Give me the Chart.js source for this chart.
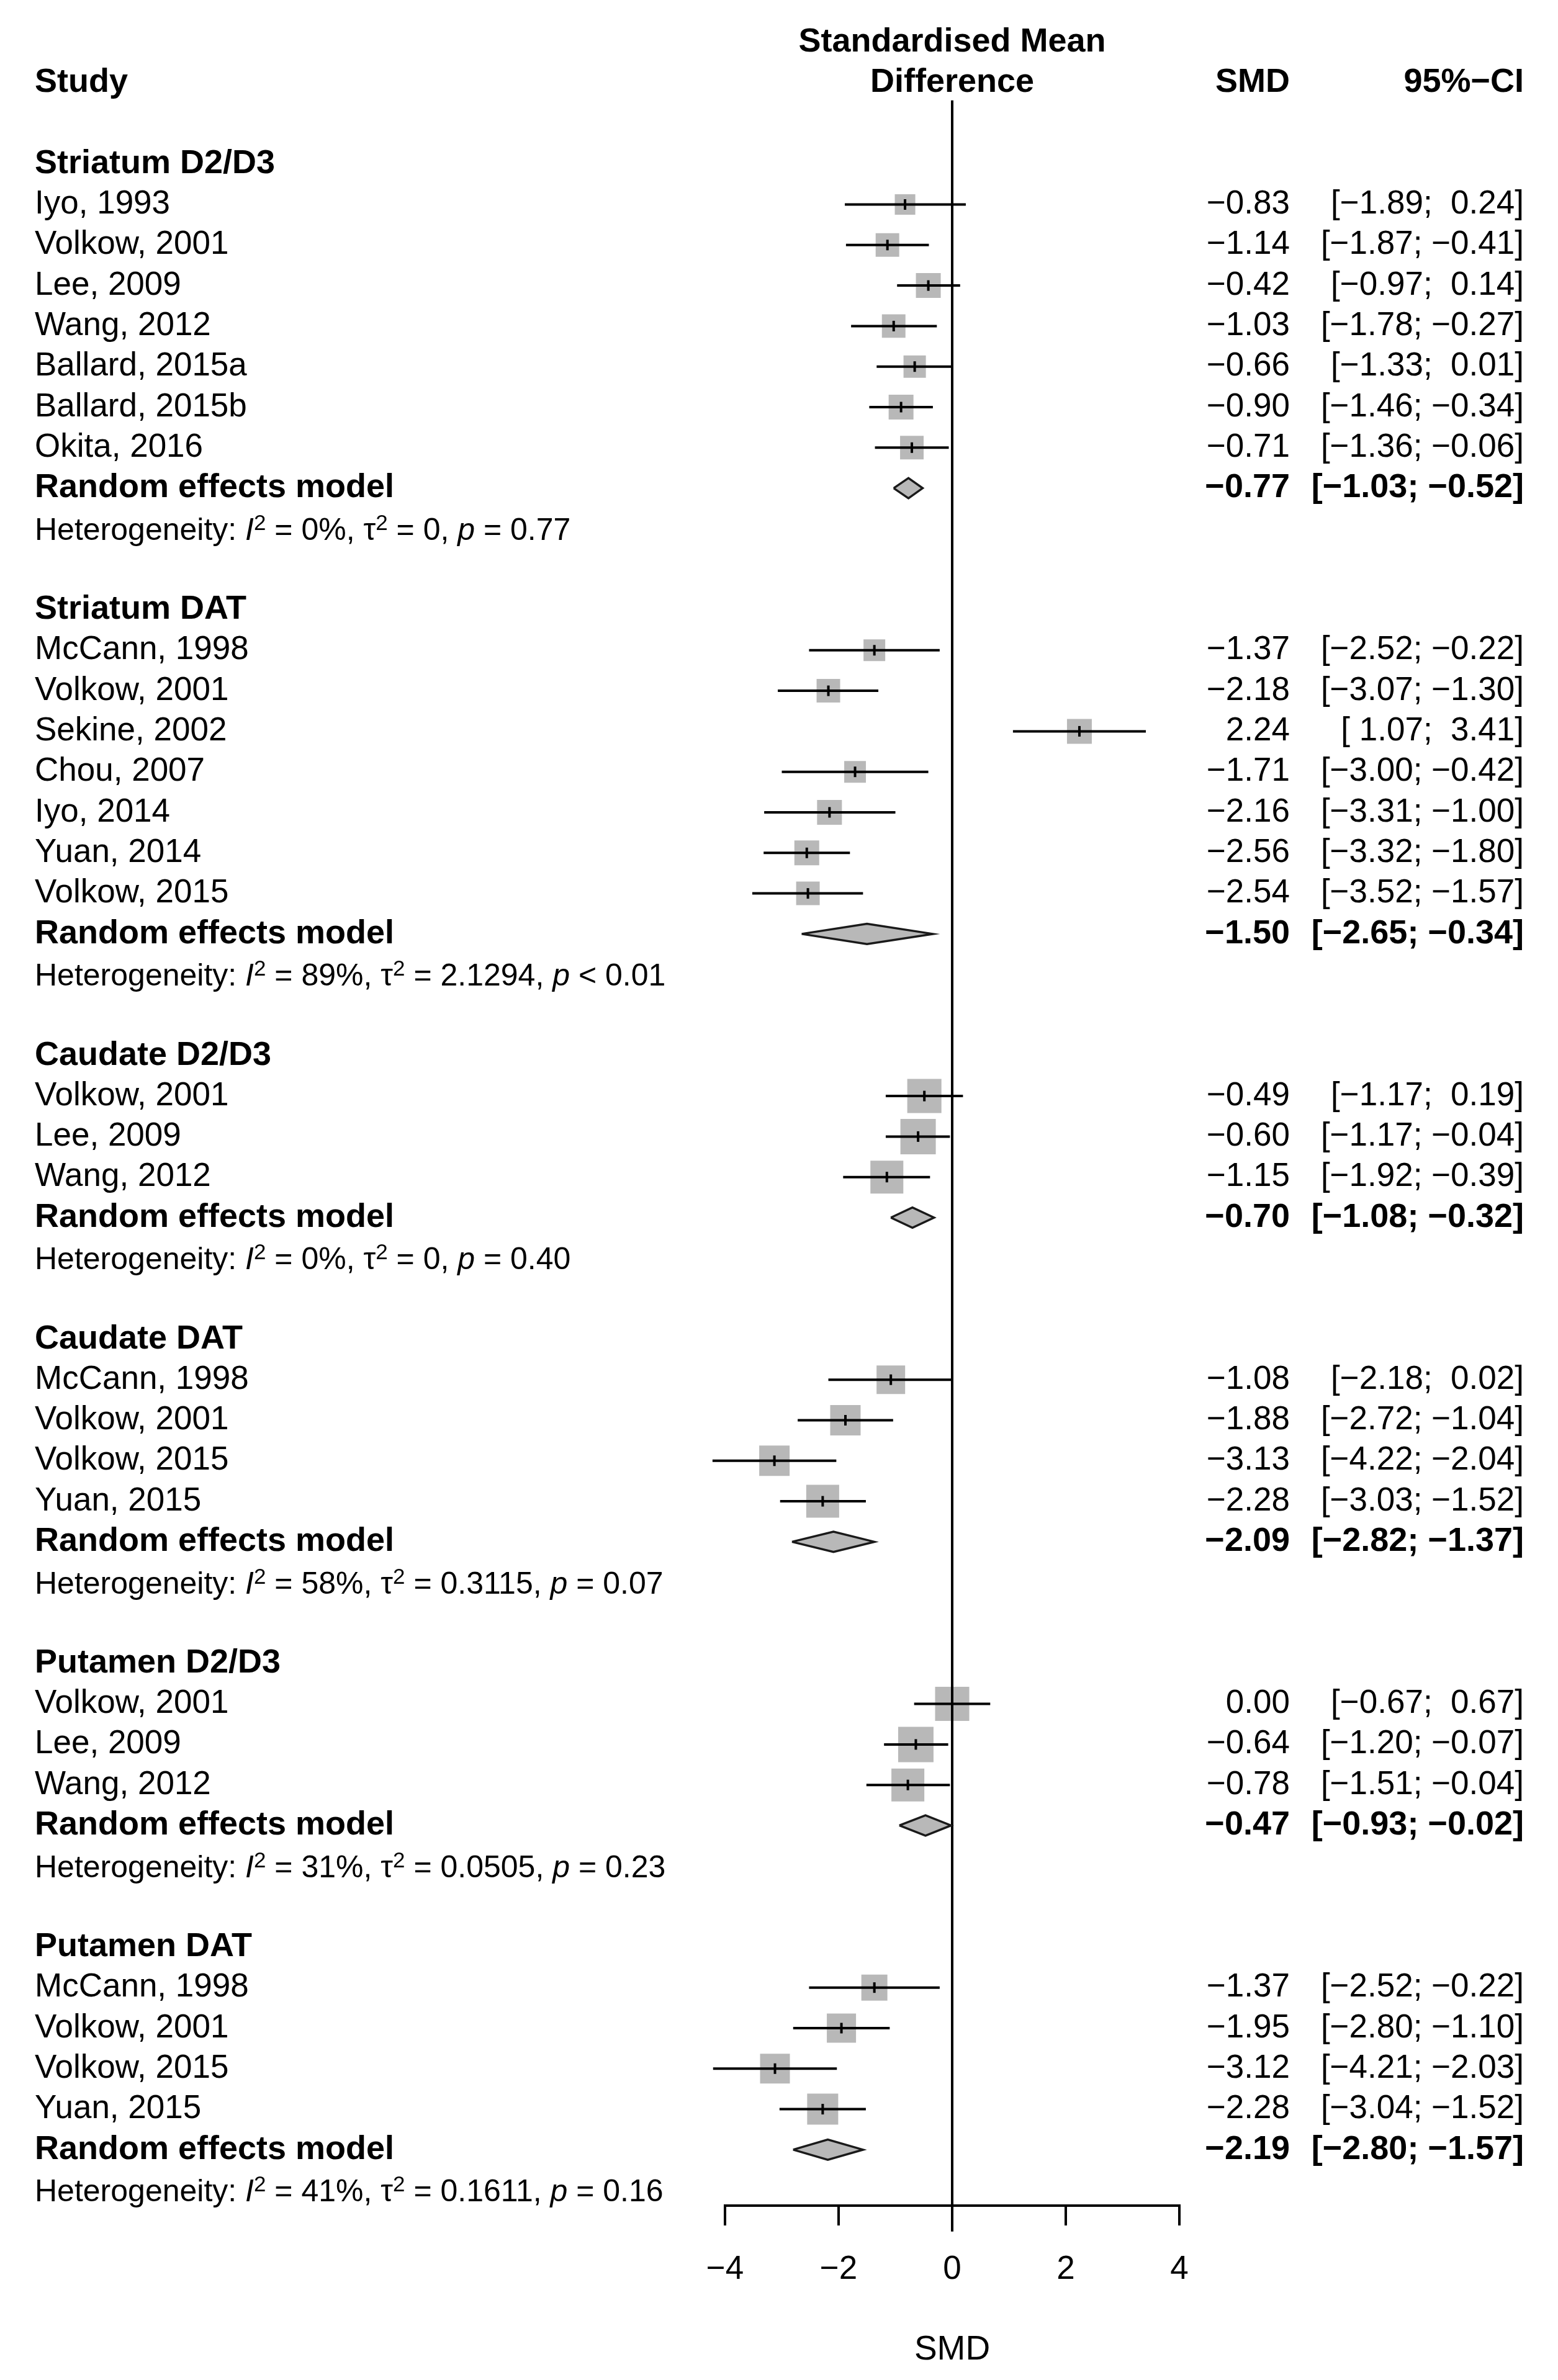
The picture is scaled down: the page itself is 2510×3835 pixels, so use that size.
<!DOCTYPE html>
<html>
<head>
<meta charset="utf-8">
<script src="https://cdn.jsdelivr.net/npm/chart.js@4.4.1/dist/chart.umd.min.js"></script>
<style>
  html, body { margin: 0; padding: 0; background: #fff; }
  #forest { display: block; }
</style>
</head>
<body>
<canvas id="forest" width="2510" height="3835"></canvas>
<script>
// subgroups
const groupNames = ["Striatum D2/D3", "Striatum DAT", "Caudate D2/D3", "Caudate DAT", "Putamen D2/D3", "Putamen DAT"];

const studyNames = [
  ["Iyo, 1993", "Volkow, 2001", "Lee, 2009", "Wang, 2012", "Ballard, 2015a", "Ballard, 2015b", "Okita, 2016"],
  ["McCann, 1998", "Volkow, 2001", "Sekine, 2002", "Chou, 2007", "Iyo, 2014", "Yuan, 2014", "Volkow, 2015"],
  ["Volkow, 2001", "Lee, 2009", "Wang, 2012"],
  ["McCann, 1998", "Volkow, 2001", "Volkow, 2015", "Yuan, 2015"],
  ["Volkow, 2001", "Lee, 2009", "Wang, 2012"],
  ["McCann, 1998", "Volkow, 2001", "Volkow, 2015", "Yuan, 2015"],
];

const smd = [
  [-0.83, -1.14, -0.42, -1.03, -0.66, -0.90, -0.71],
  [-1.37, -2.18, 2.24, -1.71, -2.16, -2.56, -2.54],
  [-0.49, -0.60, -1.15],
  [-1.08, -1.88, -3.13, -2.28],
  [0.00, -0.64, -0.78],
  [-1.37, -1.95, -3.12, -2.28],
];
const ciLow = [
  [-1.89, -1.87, -0.97, -1.78, -1.33, -1.46, -1.36],
  [-2.52, -3.07, 1.07, -3.00, -3.31, -3.32, -3.52],
  [-1.17, -1.17, -1.92],
  [-2.18, -2.72, -4.22, -3.03],
  [-0.67, -1.20, -1.51],
  [-2.52, -2.80, -4.21, -3.04],
];
const ciHigh = [
  [0.24, -0.41, 0.14, -0.27, 0.01, -0.34, -0.06],
  [-0.22, -1.30, 3.41, -0.42, -1.00, -1.80, -1.57],
  [0.19, -0.04, -0.39],
  [0.02, -1.04, -2.04, -1.52],
  [0.67, -0.07, -0.04],
  [-0.22, -1.10, -2.03, -1.52],
];
// study weights (%)
const weights = [
  [11.6, 15.3, 17.0, 15.3, 13.8, 17.0, 15.3],
  [13.0, 15.3, 17.0, 13.0, 17.0, 17.0, 15.3],
  [32.2, 34.5, 29.9],
  [22.5, 25.5, 25.5, 29.9],
  [32.2, 34.5, 29.9],
  [18.7, 23.5, 24.5, 26.6],
];

// random effects model per subgroup
const pooledSmd = [-0.77, -1.50, -0.70, -2.09, -0.47, -2.19];
const pooledLow = [-1.03, -2.65, -1.08, -2.82, -0.93, -2.80];
const pooledHigh = [-0.52, -0.34, -0.32, -1.37, -0.02, -1.57];

const hetI2 = ["0%", "89%", "0%", "58%", "31%", "41%"];
const hetTau2 = ["0", "2.1294", "0", "0.3115", "0.0505", "0.1611"];
const hetP = ["= 0.77", "< 0.01", "= 0.40", "= 0.07", "= 0.23", "= 0.16"];

const xTicks = [-4, -2, 0, 2, 4];
const nullEffect = 0;

// ---- layout ----
const FONT = '"Liberation Sans", Arial, Helvetica, sans-serif';
const TXT = 53;
const BOLD = 54;
const HET = 50;
const LEFT_X = 56;
const SMD_X = 2078;
const CI_X = 2455;
const BOX_K = 9.7;
const GRAY = "#b8b8b8";

// rows
const groupRow = [], studyRows = [], poolRow = [], hetRow = [];
let r = 1;
groupNames.forEach((g, gi) => {
  groupRow[gi] = r++;
  studyRows[gi] = studyNames[gi].map(() => r++);
  poolRow[gi] = r++;
  hetRow[gi] = r++;
  r++;
});

const minus = v => (v < 0 ? "\u2212" : "") + Math.abs(v).toFixed(2);
const padNum = v => (v < 0 ? "\u2212" : " ") + Math.abs(v).toFixed(2);
const ciText = (lo, hi) => "[" + padNum(lo) + "; " + padNum(hi) + "]";

// datasets
const boxPts = [], boxW = [], ciPts = [], diamondSets = [];
groupNames.forEach((g, gi) => {
  smd[gi].forEach((v, i) => {
    const row = studyRows[gi][i];
    boxPts.push({ x: v, y: row });
    boxW.push(weights[gi][i]);
    ciPts.push({ x: ciLow[gi][i], y: row }, { x: ciHigh[gi][i], y: row }, { x: null, y: null });
  });
  const pr = poolRow[gi];
  diamondSets.push({
    type: "line",
    data: [
      { x: pooledLow[gi], y: pr },
      { x: pooledSmd[gi], y: pr - 0.25 },
      { x: pooledHigh[gi], y: pr },
      { x: pooledSmd[gi], y: pr + 0.25 },
      { x: pooledLow[gi], y: pr },
    ],
    borderColor: "#1a1a1a",
    borderWidth: 3.5,
    backgroundColor: GRAY,
    fill: "shape",
    pointRadius: 0,
    tension: 0,
    clip: false,
    order: 1,
  });
});

const rowLast = r - 2;

function drawText(ctx, t, x, y, align, bold) {
  ctx.font = (bold ? "bold " + BOLD : TXT) + "px " + FONT;
  ctx.textAlign = align;
  ctx.fillText(t, x, y);
}

function drawHet(ctx, x, y, gi) {
  const parts = [
    ["Heterogeneity: ", ""], ["I", "i"], ["2", "s"], [" = " + hetI2[gi] + ", ", ""],
    ["\u03c4", ""], ["2", "s"], [" = " + hetTau2[gi] + ", ", ""],
    ["p", "i"], [" " + hetP[gi], ""],
  ];
  const base = y + 0.358 * HET;
  let cx = x;
  ctx.textAlign = "left";
  ctx.textBaseline = "alphabetic";
  parts.forEach(([t, k]) => {
    const size = k === "s" ? HET * 0.7 : HET;
    ctx.font = (k === "i" ? "italic " : "") + size + "px " + FONT;
    ctx.fillText(t, cx, k === "s" ? base - 0.32 * HET : base);
    cx += ctx.measureText(t).width;
  });
  ctx.textBaseline = "middle";
}

const forestText = {
  id: "forestText",
  afterDraw(chart) {
    const ctx = chart.ctx;
    const ys = chart.scales.y;
    const y = v => ys.getPixelForValue(v);
    const xZero = chart.scales.x.getPixelForValue(nullEffect);
    ctx.save();
    ctx.fillStyle = "#000";
    ctx.textBaseline = "middle";

    drawText(ctx, "Study", LEFT_X, y(-1), "left", true);
    drawText(ctx, "Standardised Mean", xZero, y(-2), "center", true);
    drawText(ctx, "Difference", xZero, y(-1), "center", true);
    drawText(ctx, "SMD", SMD_X, y(-1), "right", true);
    drawText(ctx, "95%\u2212CI", CI_X, y(-1), "right", true);

    groupNames.forEach((g, gi) => {
      drawText(ctx, g, LEFT_X, y(groupRow[gi]), "left", true);
      studyNames[gi].forEach((s, i) => {
        const yy = y(studyRows[gi][i]);
        drawText(ctx, s, LEFT_X, yy, "left", false);
        drawText(ctx, minus(smd[gi][i]), SMD_X, yy, "right", false);
        drawText(ctx, ciText(ciLow[gi][i], ciHigh[gi][i]), CI_X, yy, "right", false);
      });
      const py = y(poolRow[gi]);
      drawText(ctx, "Random effects model", LEFT_X, py, "left", true);
      drawText(ctx, minus(pooledSmd[gi]), SMD_X, py, "right", true);
      drawText(ctx, ciText(pooledLow[gi], pooledHigh[gi]), CI_X, py, "right", true);
      drawHet(ctx, LEFT_X, y(hetRow[gi]), gi);
    });
    ctx.restore();
  },
};

new Chart(document.getElementById("forest"), {
  type: "line",
  data: {
    datasets: [
      {
        label: "studies",
        data: boxPts,
        showLine: false,
        pointStyle: "rect",
        pointRadius: c => (BOX_K * Math.sqrt(boxW[c.dataIndex] || 0)) / Math.SQRT2,
        pointBackgroundColor: GRAY,
        pointBorderWidth: 0,
        clip: false,
        order: 5,
      },
      {
        label: "zero",
        data: [{ x: nullEffect, y: -0.57 }, { x: nullEffect, y: rowLast + 1.02 }],
        borderColor: "#000",
        borderWidth: 4,
        pointRadius: 0,
        clip: false,
        order: 4,
      },
      {
        label: "ci",
        data: ciPts,
        borderColor: "#000",
        borderWidth: 4,
        borderCapStyle: "butt",
        pointRadius: 0,
        spanGaps: false,
        clip: false,
        order: 3,
      },
      {
        label: "estimate",
        data: boxPts,
        showLine: false,
        pointStyle: "line",
        rotation: 90,
        pointRadius: 8.5,
        pointBorderColor: "#000",
        pointBorderWidth: 4,
        clip: false,
        order: 2,
      },
      ...diamondSets,
    ],
  },
  options: {
    responsive: false,
    animation: false,
    devicePixelRatio: 1,
    layout: { autoPadding: false, padding: { left: 1168, right: 610, top: 3, bottom: 0 } },
    plugins: { legend: { display: false }, tooltip: { enabled: false } },
    elements: { line: { tension: 0 } },
    scales: {
      x: {
        type: "linear",
        min: -4,
        max: 4,
        afterBuildTicks: s => { s.ticks = xTicks.map(v => ({ value: v })); },
        afterFit: s => { s.height = 281; },
        border: { display: true, color: "#000", width: 4 },
        grid: { display: true, drawOnChartArea: false, drawTicks: true, tickLength: 32, color: "#000", lineWidth: 4 },
        ticks: {
          autoSkip: false,
          maxRotation: 0,
          padding: 40,
          color: "#000",
          font: { family: FONT, size: 53 },
          callback: v => (v < 0 ? "\u2212" : "") + Math.abs(v),
        },
        title: {
          display: true,
          text: "SMD",
          color: "#000",
          font: { family: FONT, size: 55 },
          padding: { top: 0, bottom: 15 },
        },
      },
      y: {
        type: "linear",
        reverse: true,
        min: -3,
        max: 51.38,
        display: false,
        ticks: { display: false },
        afterFit: s => { s.paddingTop = 0; s.paddingBottom = 0; },
      },
    },
  },
  plugins: [forestText],
});
</script>
</body>
</html>
